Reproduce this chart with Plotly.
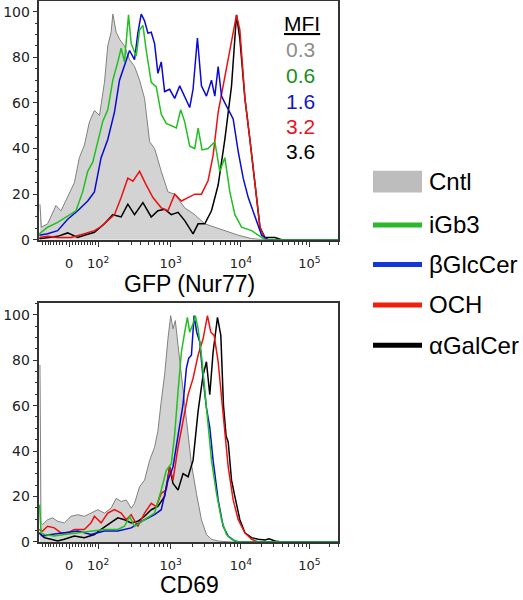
import numpy as np
import plotly.graph_objects as go

# ---------------- data (x = position on the biexponential display, in decades; y = % of max) -------------
# GFP (Nur77) panel
gfp_cntl_x = [1.05, 1.07, 1.162, 1.284, 1.358, 1.456, 1.554, 1.627, 1.701, 1.775, 1.848, 1.922, 1.995, 2.044,
              2.093, 2.118, 2.167, 2.216, 2.289, 2.363, 2.436, 2.510, 2.583, 2.657, 2.730, 2.828, 2.926, 3.025,
              3.172, 3.319, 3.466, 3.613, 3.760, 3.956, 4.152, 4.348, 5.42]
gfp_cntl_y = [15.6, 5.5, 7, 15, 12.7, 18.5, 25, 36, 41.5, 51.7, 56.7, 54.5, 69, 85, 91, 99, 91, 88, 85, 79, 76,
              70, 62, 43, 40, 30, 21, 20, 14, 11, 7, 5.5, 4, 2, 0.5, 0, 0]

gfp_igb3_x = [1.04, 1.162, 1.309, 1.456, 1.578, 1.676, 1.750, 1.824, 1.897, 1.971, 2.044, 2.118, 2.191, 2.240,
              2.289, 2.348, 2.387, 2.461, 2.510, 2.559, 2.608, 2.681, 2.755, 2.828, 2.902, 2.975, 3.049, 3.113,
              3.172, 3.245, 3.319, 3.368, 3.426, 3.515, 3.613, 3.686, 3.760, 3.833, 3.907, 4.005, 4.152, 4.299,
              4.348, 5.42]
gfp_igb3_y = [2.6, 5.5, 7.6, 10.5, 12.7, 21, 30, 34, 43, 52, 57, 70, 78, 84, 78, 98.6, 86, 80.5, 92, 94, 83, 69,
              67, 55, 51, 50, 49, 57, 51.7, 41, 40, 49, 39.4, 40, 43, 30, 36, 21, 11, 5.5, 4, 1, 0, 0]

gfp_bglc_x = [1.04, 1.162, 1.309, 1.456, 1.603, 1.750, 1.848, 1.946, 2.044, 2.142, 2.216, 2.289, 2.363, 2.436,
              2.485, 2.534, 2.583, 2.632, 2.681, 2.730, 2.779, 2.828, 2.877, 2.951, 3.025, 3.098, 3.172, 3.245,
              3.294, 3.358, 3.417, 3.490, 3.564, 3.613, 3.662, 3.711, 3.760, 3.833, 3.882, 3.956, 4.029, 4.103,
              4.201, 4.299, 4.397, 5.42]
gfp_bglc_y = [2, 2.6, 4, 9, 12.7, 17, 21, 36, 44, 56, 70, 77, 83, 79, 90.6, 99, 96, 90.6, 91, 86, 73, 78, 65,
              66, 62, 67.5, 63, 58, 66, 88.5, 67.5, 63, 70, 63, 76, 63, 60, 56, 53, 38.7, 27, 18.5, 9.8, 2, 0, 0]

gfp_och_x = [1.04, 1.162, 1.309, 1.505, 1.701, 1.848, 1.946, 2.044, 2.142, 2.240, 2.338, 2.412, 2.510, 2.608,
             2.706, 2.828, 2.926, 3.025, 3.123, 3.221, 3.319, 3.417, 3.515, 3.588, 3.662, 3.735, 3.809, 3.882,
             3.931, 3.980, 4.054, 4.127, 4.201, 4.275, 4.348, 4.397, 5.42]
gfp_och_y = [1, 1.5, 1, 1, 2.6, 4, 5.8, 8.4, 11, 18.5, 27, 25.7, 30, 24, 18.5, 14, 12.7, 20, 17, 18.5, 20, 20,
             26, 37, 56, 67.5, 79, 90.6, 98.6, 92, 62, 44, 24, 5.5, 0.4, 0, 0]

gfp_agal_x = [1.04, 1.162, 1.309, 1.456, 1.603, 1.701, 1.848, 1.995, 2.118, 2.240, 2.338, 2.436, 2.559, 2.681,
              2.779, 2.877, 2.975, 3.074, 3.172, 3.294, 3.368, 3.466, 3.564, 3.662, 3.760, 3.858, 3.931, 3.980,
              4.054, 4.127, 4.201, 4.275, 4.348, 4.495, 4.593, 5.42]
gfp_agal_y = [0.4, 1, 1.5, 3, 1, 2, 3.3, 7, 11, 10, 15.6, 11, 16.3, 10, 12.7, 13.4, 11, 12, 8.4, 2.6, 7, 7, 12.7,
              24, 44, 67.5, 98.6, 88, 62, 44, 24, 5.5, 1, 1, 0, 0]

# CD69 panel
cd69_cntl_x = [1.05, 1.065, 1.088, 1.162, 1.235, 1.309, 1.407, 1.505, 1.603, 1.701, 1.799, 1.897, 1.995, 2.093,
               2.167, 2.240, 2.314, 2.387, 2.436, 2.510, 2.583, 2.657, 2.730, 2.779, 2.828, 2.877, 2.926, 2.966,
               3.000, 3.034, 3.074, 3.123, 3.172, 3.221, 3.270, 3.343, 3.417, 3.490, 3.564, 3.662, 3.858, 5.42]
cd69_cntl_y = [77.9, 8.4, 7.7, 9.8, 10.6, 9.1, 8.4, 11.3, 12, 11.3, 12.7, 14.2, 12.7, 14.9, 19.2, 17.8, 18.5,
               14.9, 17, 24.3, 27.2, 35.9, 41.7, 48.9, 62, 73.5, 89.4, 99.6, 93.8, 97.4, 86.5, 73.5, 62, 47.5,
               34.4, 21.4, 9.8, 3.3, 1.2, 0.4, 0, 0]

cd69_igb3_x = [1.045, 1.065, 1.113, 1.260, 1.407, 1.603, 1.799, 1.995, 2.191, 2.289, 2.363, 2.436, 2.583, 2.730,
               2.828, 2.902, 2.975, 3.025, 3.074, 3.123, 3.172, 3.211, 3.245, 3.294, 3.328, 3.368, 3.417, 3.466,
               3.515, 3.564, 3.637, 3.711, 3.784, 3.858, 3.956, 5.42]
cd69_igb3_y = [16.4, 4, 3.3, 2.6, 3.3, 4, 4.8, 5.5, 5.5, 6.9, 11.3, 6.9, 9.8, 12.7, 22.9, 31.5, 34.4, 47.5,
               66.3, 83.6, 92.3, 98.8, 92.3, 96, 99.6, 93.8, 82.2, 67.7, 53.3, 35.9, 21.4, 9.8, 3.3, 1.2, 0, 0]

cd69_bglc_x = [1.04, 1.088, 1.211, 1.407, 1.603, 1.799, 1.995, 2.191, 2.387, 2.583, 2.730, 2.828, 2.926, 3.000,
               3.074, 3.147, 3.196, 3.230, 3.270, 3.309, 3.348, 3.392, 3.441, 3.490, 3.539, 3.588, 3.662, 3.735,
               3.809, 3.907, 3.98, 5.42]
cd69_bglc_y = [4, 2.6, 3.3, 4, 4.8, 3.3, 4.8, 4.8, 6.2, 9.8, 12, 14.2, 27.2, 33, 47.5, 60.5, 76.4, 80.8, 82.2,
               99.6, 92.3, 88, 72, 59, 50.4, 35.9, 18.5, 6.9, 2.6, 0.4, 0, 0]

cd69_och_x = [1.04, 1.088, 1.162, 1.260, 1.358, 1.456, 1.554, 1.701, 1.799, 1.848, 1.946, 2.044, 2.142, 2.240,
              2.314, 2.387, 2.485, 2.583, 2.681, 2.755, 2.828, 2.902, 2.951, 3.000, 3.074, 3.147, 3.221, 3.294,
              3.368, 3.441, 3.505, 3.554, 3.603, 3.662, 3.711, 3.760, 3.809, 3.882, 3.956, 4.054, 4.152, 4.250,
              5.42]
cd69_och_y = [5.5, 4.8, 6.9, 6.2, 4, 4, 5.5, 5.5, 8.4, 11.3, 8.4, 12.7, 14.2, 12.7, 9.8, 12, 6.9, 12.7, 17, 15.6,
              21.4, 22.9, 33, 27.2, 41.7, 53.3, 64.8, 72, 82.2, 89.4, 99.6, 92.3, 90.9, 79.3, 64.8, 47.5, 33, 18.5,
              9.8, 4, 1.2, 0, 0]

cd69_agal_x = [1.04, 1.113, 1.211, 1.309, 1.407, 1.554, 1.701, 1.848, 1.946, 2.093, 2.191, 2.289, 2.387, 2.485,
               2.583, 2.681, 2.779, 2.877, 2.951, 3.000, 3.074, 3.147, 3.221, 3.294, 3.368, 3.441, 3.490, 3.539,
               3.588, 3.652, 3.701, 3.740, 3.779, 3.809, 3.858, 3.907, 3.980, 4.054, 4.152, 4.250, 4.348, 4.407,
               4.495, 4.593, 5.42]
cd69_agal_y = [4, 1.9, 1.2, 0.4, 1.2, 2.6, 1.9, 3.3, 5.5, 8.4, 10.6, 9.8, 8.4, 9.1, 11.3, 14.2, 15.6, 20, 33,
               25.8, 22.9, 30.1, 28.7, 35.9, 57.6, 73.5, 79.3, 64.8, 83.6, 98.8, 90.9, 60, 46.5, 44, 27.2, 20,
               9.8, 4, 1.9, 1.2, 0.9, 1.4, 0.4, 0, 0]

# legend / annotations
legend_names = ["Cntl", "iGb3", "βGlcCer", "OCH", "αGalCer"]
legend_colors = ["#bdbdbd", "#2cb82c", "#1438d8", "#f0200c", "#000000"]
mfi_values = ["0.3", "0.6", "1.6", "3.2", "3.6"]
mfi_colors = ["#8c8c8c", "#17901a", "#1616c8", "#e8141e", "#000000"]
axis_titles = ["GFP (Nur77)", "CD69"]

line_colors = {"iGb3": "#1fc11f", "βGlcCer": "#0a0ad2", "OCH": "#ec1010", "αGalCer": "#000000"}

y_tick_vals = [0, 20, 40, 60, 80, 100]
x_major_vals = [0, 1e2, 1e3, 1e4, 1e5]
x_major_text = ["0", "10<sup>2</sup>", "10<sup>3</sup>", "10<sup>4</sup>", "10<sup>5</sup>"]

# ---------------- biexponential (logicle) display transform ----------------
T_TOP = 262144.0
M_DEC = 4.39
W_DEC = 0.45
X_LEFT = np.log10(T_TOP) - M_DEC   # display value (decades) of the left edge
X_RIGHT = np.log10(T_TOP)


def logicle_position(values):
    w = W_DEC / M_DEC
    x1, x0 = w, 2 * w
    b = M_DEC * np.log(10)
    lo, hi = 1e-9, b
    for _ in range(200):
        mid = 0.5 * (lo + hi)
        if 2 * (np.log(mid) - np.log(b)) + w * (b + mid) > 0:
            hi = mid
        else:
            lo = mid
    d = 0.5 * (lo + hi)
    ca = np.exp(x0 * (b + d))
    fa = np.exp(b * x1) - ca / np.exp(d * x1)
    a = T_TOP / (np.exp(b) - fa - ca / np.exp(d))
    c, f = ca * a, -fa * a
    ys = np.linspace(-0.1, 1.0, 400001)
    S = lambda y: a * np.exp(b * y) - c * np.exp(-d * y) + f
    xs = np.where(ys >= x1, S(ys), -S(2 * x1 - ys))
    u = np.interp(np.asarray(values, dtype=float), xs, ys)
    return X_LEFT + M_DEC * u


major_pos = list(logicle_position(x_major_vals))
minor_raw = [-m * 10 for m in range(1, 10)] + [m * 10 ** e for e in range(1, 6) for m in range(1, 10)]
minor_pos = [p for p in logicle_position(minor_raw) if X_LEFT <= p <= X_RIGHT]

# ---------------- figure ----------------
W, H = 523, 600
fig = go.Figure()

FONT_TXT = "Liberation Sans, Arial, sans-serif"
FONT_TICK = "DejaVu Sans, Verdana, sans-serif"


def add_panel(cntl, igb3, bglc, och, agal, xa, ya):
    fig.add_trace(go.Scatter(x=cntl[0], y=cntl[1], mode="lines", fill="tozeroy",
                             fillcolor="#d3d3d3", line=dict(color="#808080", width=1),
                             xaxis=xa, yaxis=ya, showlegend=False, name="Cntl"))
    for nm, (xs, ys) in [("αGalCer", agal), ("OCH", och), ("βGlcCer", bglc), ("iGb3", igb3)]:
        fig.add_trace(go.Scatter(x=xs, y=ys, mode="lines", line=dict(color=line_colors[nm], width=1.5),
                                 xaxis=xa, yaxis=ya, showlegend=False, name=nm))


add_panel((gfp_cntl_x, gfp_cntl_y), (gfp_igb3_x, gfp_igb3_y), (gfp_bglc_x, gfp_bglc_y),
          (gfp_och_x, gfp_och_y), (gfp_agal_x, gfp_agal_y), "x", "y")
add_panel((cd69_cntl_x, cd69_cntl_y), (cd69_igb3_x, cd69_igb3_y), (cd69_bglc_x, cd69_bglc_y),
          (cd69_och_x, cd69_och_y), (cd69_agal_x, cd69_agal_y), "x2", "y2")

px = lambda v: v / W
py = lambda v: 1 - v / H

x_dom = [px(38.5), px(338)]

xaxis_common = dict(range=[X_LEFT, X_RIGHT], domain=x_dom, showline=True, linecolor="#333333", linewidth=1.5,
                    mirror=True, ticks="outside", ticklen=5, tickwidth=1.2, tickcolor="#333333",
                    tickmode="array", tickvals=major_pos, ticktext=x_major_text, showgrid=False, zeroline=False,
                    tickfont=dict(family=FONT_TICK, size=13, color="#222222"), ticklabelstandoff=6,
                    minor=dict(tickmode="array", tickvals=minor_pos, ticks="outside", ticklen=3,
                               tickwidth=1, tickcolor="#333333", showgrid=False))
yaxis_common = dict(showline=True, linecolor="#333333", linewidth=1.5, mirror=True, ticks="outside",
                    ticklen=4, tickwidth=1.2, tickcolor="#333333", tickmode="array", tickvals=y_tick_vals,
                    showgrid=False, zeroline=False,
                    tickfont=dict(family=FONT_TICK, size=14, color="#222222"),
                    minor=dict(dtick=5, ticks="outside", ticklen=2, tickwidth=1, tickcolor="#333333",
                               showgrid=False))

fig.update_layout(
    width=W, height=H, margin=dict(l=0, r=0, t=0, b=0),
    paper_bgcolor="white", plot_bgcolor="white", showlegend=False,
    xaxis=dict(xaxis_common, anchor="y"),
    yaxis=dict(yaxis_common, anchor="x", domain=[py(243), py(1.5)], range=[0, 104.5]),
    xaxis2=dict(xaxis_common, anchor="y2"),
    yaxis2=dict(yaxis_common, anchor="x2", domain=[py(549.3), py(307)], range=[0, 105.2]),
)

shapes = []
annotations = []

# axis titles
for txt, yc in zip(axis_titles, [288, 593]):
    annotations.append(dict(text=txt, xref="paper", yref="paper", x=px(189), y=py(yc), xanchor="center",
                            yanchor="middle", showarrow=False,
                            font=dict(family=FONT_TXT, size=23, color="#000000")))

# manual legend (right side)
leg_y = [184, 228, 268, 309, 350]
for i, (nm, col) in enumerate(zip(legend_names, legend_colors)):
    yc = leg_y[i]
    if i == 0:
        shapes.append(dict(type="rect", xref="paper", yref="paper", x0=px(373), x1=px(422),
                           y0=py(yc + 11), y1=py(yc - 11), fillcolor=col, line=dict(width=0)))
    else:
        shapes.append(dict(type="line", xref="paper", yref="paper", x0=px(373), x1=px(422),
                           y0=py(yc), y1=py(yc), line=dict(color=col, width=5)))
    annotations.append(dict(text=nm, xref="paper", yref="paper", x=px(427), y=py(yc), xanchor="left",
                            yanchor="middle", showarrow=False,
                            font=dict(family=FONT_TXT, size=24, color="#000000")))

# MFI column
annotations.append(dict(text="<u>MFI</u>", xref="paper", yref="paper", x=px(302), y=py(24), xanchor="center",
                        yanchor="middle", showarrow=False, font=dict(family=FONT_TXT, size=21, color="#000000")))
mfi_y = [50, 77, 103, 128, 154]
for v, col, yc in zip(mfi_values, mfi_colors, mfi_y):
    annotations.append(dict(text=v, xref="paper", yref="paper", x=px(300), y=py(yc), xanchor="center",
                            yanchor="middle", showarrow=False, font=dict(family=FONT_TXT, size=21, color=col)))

fig.update_layout(shapes=shapes, annotations=annotations)
fig.write_html("out.html", config={"displayModeBar": False},
               post_script="document.body.style.margin='0';document.body.style.overflow='hidden';")
